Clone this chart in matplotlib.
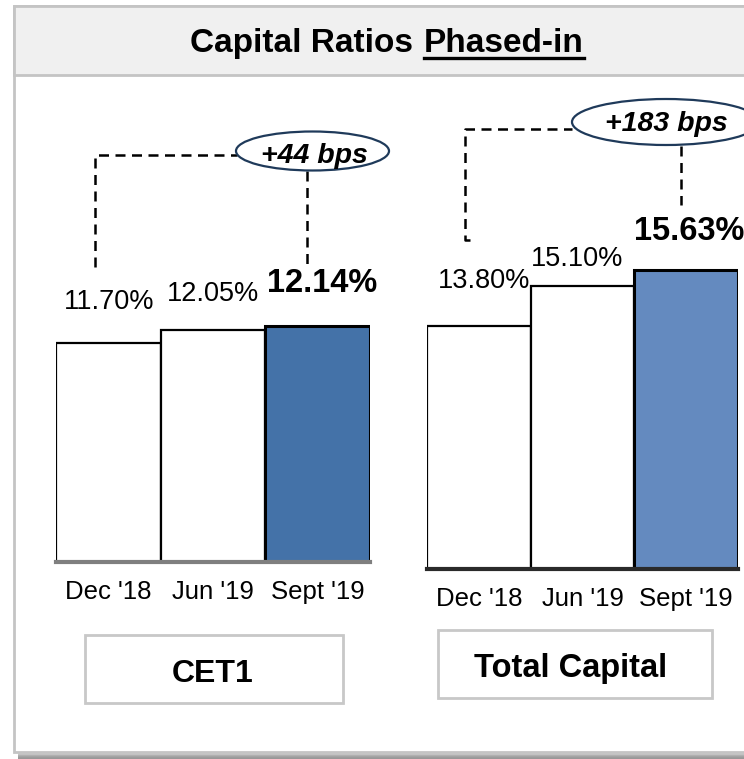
import matplotlib
matplotlib.use("Agg")
import matplotlib.pyplot as plt
from matplotlib.patches import Rectangle, Ellipse
from matplotlib.lines import Line2D

plt.rcParams['font.family'] = ['Liberation Sans', 'DejaVu Sans']

# ---------------- data ----------------
periods = ["Dec '18", "Jun '19", "Sept '19"]
cet1_values = [11.70, 12.05, 12.14]
total_capital_values = [13.80, 15.10, 15.63]
cet1_change = "+44 bps"
total_change = "+183 bps"
title_main = "Capital Ratios"
title_under = "Phased-in"
panel_labels = ["CET1", "Total Capital"]

W, H = 744, 759
fig = plt.figure(figsize=(W / 100, H / 100), dpi=100)
fig.patch.set_facecolor('white')


def fx(x):
    return x / W


def fy(y):
    return 1 - y / H


def rect_px(x0, y0, x1, y1, **kw):
    r = Rectangle((fx(x0), fy(y1)), fx(x1) - fx(x0), fy(y0) - fy(y1),
                  transform=fig.transFigure, **kw)
    fig.add_artist(r)
    return r


def line_px(xs, ys, **kw):
    l = Line2D([fx(x) for x in xs], [fy(y) for y in ys],
               transform=fig.transFigure, **kw)
    fig.add_artist(l)
    return l


# ---------------- panel frame ----------------
shades = ['#e6e6e6', '#d4d4d4', '#c2c2c2', '#b0b0b0', '#a4a4a4', '#9c9c9c', '#989898']
for i, c in enumerate(shades):
    rect_px(18, 752 + i, 760, 753 + i, facecolor=c, edgecolor='none', zorder=0)
rect_px(14, 6, 760, 752, facecolor='white', edgecolor='#c4c4c4', linewidth=2, zorder=1)
rect_px(14, 6, 760, 75, facecolor='#f0f0f0', edgecolor='#c4c4c4', linewidth=2, zorder=2)

# title
t1 = fig.text(fx(413), fy(52), title_main, ha='right', va='baseline',
              fontsize=24, fontweight='bold', zorder=5)
t2 = fig.text(fx(424), fy(52), title_under, ha='left', va='baseline',
              fontsize=24, fontweight='bold', zorder=5)
fig.canvas.draw()
bb = t2.get_window_extent(renderer=fig.canvas.get_renderer())
line_px([bb.x0, bb.x1], [57.5, 57.5], color='black', linewidth=2.4, zorder=5)


# ---------------- bar charts ----------------
def bar_chart(left, right, bottom, ymax, values, hi_color, bottom_color,
              label_offsets, tick_pad):
    ax = fig.add_axes([fx(left), fy(bottom), fx(right) - fx(left), fy(100) - fy(bottom)])
    ax.set_zorder(3)
    ax.patch.set_alpha(0)
    colors = ['white', 'white', hi_color]
    bars = ax.bar(range(len(values)), values, width=1.0, color=colors,
                  edgecolor='black', linewidth=1.6, zorder=2)
    bars[-1].set_linewidth(2.2)
    ax.set_xlim(-0.5, len(values) - 0.5)
    ax.set_ylim(6, ymax)
    for s in ['top', 'left', 'right']:
        ax.spines[s].set_visible(False)
    ax.spines['bottom'].set_color(bottom_color)
    ax.spines['bottom'].set_linewidth(3)
    ax.spines['bottom'].set_zorder(4)
    ax.set_yticks([])
    ax.set_xticks(range(len(values)), periods)
    ax.tick_params(axis='x', length=0, pad=tick_pad, labelsize=18.5)
    for i, v in enumerate(values):
        bold = i == len(values) - 1
        dx, dy = label_offsets[i]
        ax.annotate(f"{v:.2f}%", xy=(i, v), xytext=(dx, dy), textcoords='offset pixels',
                    ha='center', va='baseline',
                    fontsize=23.5 if bold else 19.5,
                    fontweight='bold' if bold else 'normal',
                    annotation_clip=False, zorder=6)
    return ax


ax1 = bar_chart(56, 370, 562, 6 + 462 / 38.4, cet1_values, '#4472A8', '#7f7f7f',
                [(1, 34), (0, 29), (4, 34)], 13)
ax2 = bar_chart(427, 738, 569, 6 + 469 / 31.1, total_capital_values, '#648ABF', '#2a2a2a',
                [(5, 38), (-5, 20), (3, 30)], 13)

# ---------------- change call-outs ----------------
dash = dict(color='black', linewidth=1.8, linestyle=(0, (4, 2.6)), zorder=5)
# CET1
line_px([95, 95, 237], [267, 155, 155], **dash)
line_px([307, 307], [171, 268], **dash)
fig.add_artist(Ellipse((fx(312.5), fy(151)), fx(153), 39 / H, transform=fig.transFigure,
                       facecolor='white', edgecolor='#1f3a5a', linewidth=1.6, zorder=6))
fig.text(fx(314), fy(163), cet1_change, ha='center', va='baseline', fontsize=20.5,
         fontweight='bold', fontstyle='italic', zorder=7)
# Total capital
line_px([470, 465, 465, 572], [240, 240, 129, 129], **dash)
line_px([681, 681], [146, 205], **dash)
fig.add_artist(Ellipse((fx(666), fy(122)), fx(188), 46 / H, transform=fig.transFigure,
                       facecolor='white', edgecolor='#1f3a5a', linewidth=1.6, zorder=6))
fig.text(fx(666), fy(131), total_change, ha='center', va='baseline', fontsize=20.5,
         fontweight='bold', fontstyle='italic', zorder=7)

# ---------------- label boxes ----------------
rect_px(85, 635, 343, 703, facecolor='white', edgecolor='#c8c8c8', linewidth=2, zorder=3)
fig.text(fx(213), fy(682), panel_labels[0], ha='center', va='baseline',
         fontsize=23, fontweight='bold', zorder=4)
rect_px(438, 630, 712, 698, facecolor='white', edgecolor='#c8c8c8', linewidth=2, zorder=3)
fig.text(fx(571), fy(677), panel_labels[1], ha='center', va='baseline',
         fontsize=23.5, fontweight='bold', zorder=4)

fig.savefig('out.png', dpi=100)
